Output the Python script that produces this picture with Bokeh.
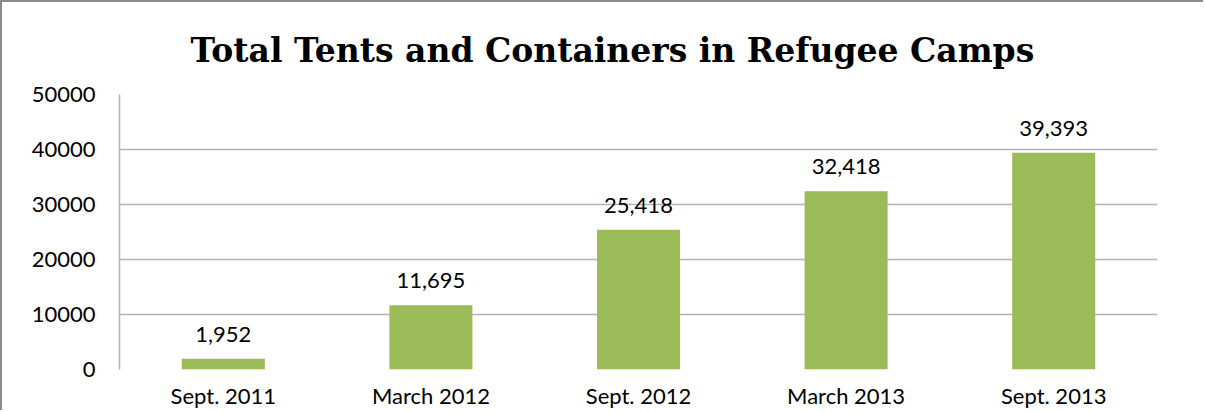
from bokeh.plotting import figure
from bokeh.models import ColumnDataSource, LabelSet, Range1d, FactorRange, FixedTicker
from bokeh.core.properties import value
from bokeh.embed import file_html
from bokeh.resources import INLINE

categories = ["Sept. 2011", "March 2012", "Sept. 2012", "March 2013", "Sept. 2013"]
values = [1952, 11695, 25418, 32418, 39393]
value_labels = ["1,952", "11,695", "25,418", "32,418", "39,393"]
y_ticks = [0, 10000, 20000, 30000, 40000, 50000]

TEXT_FONT = "Lato"
GRID = "#b3b3b3"

src = ColumnDataSource(dict(cat=categories, val=values, lab=value_labels))

p = figure(
    x_range=FactorRange(factors=categories, range_padding=0),
    y_range=Range1d(0, 50000),
    width=1203, height=410,
    output_backend="svg", toolbar_location=None,
    min_border_left=117, min_border_top=92,
    min_border_right=48, min_border_bottom=43,
    title="Total Tents and Containers in Refugee Camps",
)
p.styles = {"border-top": "2px solid #8c8c8c", "border-left": "2px solid #8c8c8c"}

p.title.text_font = "DejaVu Serif"
p.title.text_font_style = "bold"
p.title.text_font_size = "33px"
p.title.text_color = "#000000"
p.title.align = "left"
p.title.offset = 71
p.title.standoff = 45
p.title.vertical_align = "top"

p.vbar(x="cat", top="val", width=0.4, source=src, fill_color="#9bbb59", line_color=None)

labels = LabelSet(x="cat", y="val", text="lab", source=src, text_align="center",
                  text_baseline="alphabetic", y_offset=17,
                  text_font=value(TEXT_FONT), text_font_size="22px", text_color="#000000")
p.add_layout(labels)

p.outline_line_color = None
p.xgrid.grid_line_color = None
p.ygrid.grid_line_color = GRID
p.ygrid.grid_line_width = 1.5

p.yaxis.ticker = FixedTicker(ticks=y_ticks)
p.yaxis.major_label_overrides = {t: str(t) for t in y_ticks}
p.yaxis.axis_line_color = GRID
p.yaxis.axis_line_width = 1.5
p.yaxis.major_tick_line_color = None
p.yaxis.minor_tick_line_color = None
p.yaxis.major_tick_out = 0
p.yaxis.major_tick_in = 0
p.yaxis.minor_tick_out = 0
p.yaxis.major_label_standoff = 24
p.yaxis.major_label_text_font = TEXT_FONT
p.yaxis.major_label_text_font_size = "22px"
p.yaxis.major_label_text_color = "#000000"

p.xaxis.axis_line_color = None
p.xaxis.major_tick_line_color = None
p.xaxis.minor_tick_line_color = None
p.xaxis.major_tick_out = 0
p.xaxis.major_tick_in = 0
p.xaxis.minor_tick_out = 0
p.xaxis.major_label_standoff = 12
p.xaxis.major_label_text_font = TEXT_FONT
p.xaxis.major_label_text_font_size = "22px"
p.xaxis.major_label_text_color = "#000000"

open("out.html", "w").write(file_html(p, INLINE))
